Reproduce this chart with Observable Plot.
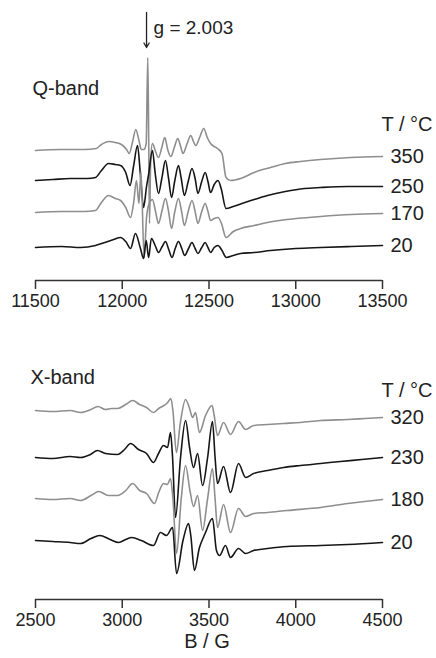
<!DOCTYPE html>
<html><head><meta charset="utf-8">
<script src="https://cdn.jsdelivr.net/npm/d3@7"></script>
<script src="https://cdn.jsdelivr.net/npm/@observablehq/plot@0.6"></script>
<style>
html,body{margin:0;padding:0;background:#fff;}
#chart{width:436px;height:658px;position:relative;overflow:hidden;}
#chart svg{display:block;}
</style></head><body><div id="chart"></div>
<script>
// ---------- tick labels ----------
const qTicks = [11500, 12000, 12500, 13000, 13500];
const xTicks = [2500, 3000, 3500, 4000, 4500];

// ---------- Q-band (field B / G, signal in arbitrary units) ----------
const qTemps = ["350", "250", "170", "20"];
const qShift = [131, 102, 69, 34];
const q350 = [[11500,-1],[11640,0],[11780,0],[11850,1],[11880,5],[11921,8],[11960,7],[11995,5],[12025,0],[12040,-4],[12060,8],[12078,20],[12095,10],[12110,0],[12125,0],[12138,6],[12147,92],[12152,20],[12157,-74],[12164,-10],[12174,6],[12192,-2],[12209,-8],[12228,2],[12245,12],[12262,0],[12280,-7],[12300,2],[12320,11],[12335,4],[12350,-4],[12372,5],[12395,14],[12410,8],[12424,4],[12446,12],[12470,21],[12490,12],[12509,6],[12549,1],[12575,-4],[12598,-28],[12624,-31],[12682,-29],[12760,-23],[12855,-18],[12940,-14],[13027,-12],[13143,-10],[13316,-8],[13500,-7]];
const q250 = [[11500,-2],[11600,-1],[11700,0],[11800,0],[11846,1],[11880,8],[11921,15],[11960,14],[11990,13],[12020,6],[12045,-7],[12065,12],[12088,33],[12105,3],[12123,-29],[12140,-8],[12152,4],[12174,28],[12190,5],[12209,-15],[12228,0],[12249,18],[12267,0],[12284,-19],[12303,-2],[12324,13],[12340,0],[12358,-17],[12380,-3],[12402,10],[12420,0],[12436,-15],[12458,-3],[12478,6],[12494,-3],[12509,-14],[12530,-6],[12552,-2],[12570,-10],[12598,-30],[12640,-28],[12690,-25],[12760,-21],[12837,-17],[12940,-13],[13050,-10],[13143,-9],[13300,-8],[13500,-8]];
const q170 = [[11500,-1],[11650,0],[11780,0],[11846,1],[11880,9],[11921,16],[11960,13],[11990,11],[12020,4],[12048,-6],[12065,8],[12082,31],[12096,8],[12108,40],[12126,-46],[12140,-6],[12155,8],[12174,12],[12192,0],[12209,-12],[12228,0],[12249,13],[12267,0],[12284,-17],[12303,0],[12324,13],[12342,0],[12358,-14],[12380,0],[12402,11],[12420,0],[12436,-12],[12458,0],[12478,8],[12494,0],[12509,-9],[12530,-7],[12552,-6],[12572,-12],[12598,-26],[12640,-20],[12682,-17],[12760,-14],[12837,-11],[12950,-8],[13143,-5],[13320,-3],[13500,-2]];
const q20 = [[11500,-1],[11650,0],[11760,-1],[11846,1],[11900,4],[11950,7],[11990,9],[12020,5],[12048,-2],[12076,13],[12105,-2],[12123,-12],[12138,6],[12152,-11],[12168,8],[12192,0],[12209,-6],[12230,0],[12249,5],[12268,-3],[12287,-11],[12305,-2],[12324,5],[12343,-2],[12360,-9],[12382,-2],[12402,4],[12420,-2],[12436,-7],[12458,-1],[12478,4],[12494,-1],[12509,-6],[12530,-1],[12552,1],[12575,-4],[12600,-11],[12640,-9],[12682,-7],[12760,-6],[12855,-4],[13000,-2],[13143,-1],[13320,0],[13500,1]];

// ---------- X-band ----------
const xTemps = ["320", "230", "180", "20"];
const xShift = [189, 142, 101, 59];
const x320 = [[2500,0],[2600,-1],[2700,0],[2759,-2],[2820,1],[2860,4],[2903,1],[2940,2],[2973,2],[3020,6],[3060,10],[3100,6],[3140,3],[3180,-2],[3210,2],[3240,5],[3262,8],[3280,12],[3292,0],[3312,-42],[3335,-12],[3365,11],[3388,2],[3405,-7],[3422,-2],[3445,-22],[3480,-5],[3518,5],[3530,-5],[3549,-25],[3584,-12],[3624,-24],[3670,-11],[3711,-19],[3757,-15],[3837,-14],[3930,-13],[4027,-12],[4143,-10],[4300,-9],[4400,-8],[4500,-7]];
const x230 = [[2500,0],[2600,-1],[2700,1],[2759,0],[2817,3],[2857,7],[2903,4],[2973,3],[3013,8],[3048,14],[3094,8],[3140,4],[3180,-5],[3209,4],[3238,12],[3261,10],[3278,25],[3290,0],[3307,-60],[3336,0],[3365,37],[3388,10],[3411,-10],[3434,4],[3463,-28],[3492,0],[3520,36],[3535,0],[3549,-26],[3584,-9],[3624,-35],[3670,-6],[3711,-20],[3757,-16],[3837,-13],[3930,-10],[4027,-8],[4143,-6],[4258,-4],[4380,-2],[4500,0]];
const x180 = [[2500,0],[2600,-1],[2700,0],[2759,-2],[2820,3],[2865,7],[2920,3],[2973,3],[3020,8],[3060,15],[3100,8],[3140,5],[3186,-5],[3210,6],[3238,15],[3260,14],[3278,20],[3292,0],[3313,-55],[3340,0],[3365,33],[3390,8],[3411,-8],[3434,3],[3463,-32],[3492,0],[3520,30],[3535,0],[3549,-29],[3584,-6],[3624,-34],[3670,-10],[3711,-18],[3757,-15],[3837,-14],[3950,-12],[4143,-9],[4300,-5],[4500,-1]];
const x20 = [[2500,0],[2600,-1],[2700,-2],[2759,-3],[2820,2],[2870,5],[2930,1],[2980,-2],[3020,1],[3055,3],[3110,0],[3180,-5],[3220,8],[3255,5],[3290,13],[3313,-33],[3350,0],[3382,17],[3395,5],[3416,-30],[3445,-7],[3465,2],[3480,8],[3520,22],[3543,-10],[3561,-15],[3595,-5],[3624,-17],[3670,-8],[3711,-13],[3757,-10],[3837,-8],[3950,-6],[4143,-5],[4300,-4],[4500,-2]];

// ---------- annotation (g = 2.003 marker, Q-band) ----------
const gField = 12140;
const gLabel = "g = 2.003";

// ---------- styles ----------
const traceColors = ["#8e8e8e", "#161616", "#8e8e8e", "#161616"];
const FONT = "'Liberation Sans', Arial, Helvetica, sans-serif";

function panel(cfg) {
  const marks = [];
  cfg.traces.forEach((tr, i) => {
    const rows = tr.map(([B, v]) => ({B, y: v + cfg.shift[i]}));
    marks.push(Plot.line(rows, {x: "B", y: "y", stroke: traceColors[i], strokeWidth: 1.6, curve: "monotone-x"}));
  });
  const labelRows = cfg.traces.map((tr, i) => {
    const last = tr[tr.length - 1];
    return {t: cfg.temps[i], B: last[0], y: last[1] + cfg.shift[i]};
  });
  marks.push(Plot.text(labelRows, {x: "B", y: "y", text: "t", dx: 8, textAnchor: "start", fontSize: 20, fill: "#222"}));
  marks.push(Plot.text(["T / °C"], {text: d => d, frameAnchor: "top-right", textAnchor: "start", lineAnchor: "middle", dx: -1, dy: cfg.unitDy, fontSize: 20, fill: "#222"}));
  marks.push(Plot.text([cfg.title], {text: d => d, frameAnchor: "top-left", textAnchor: "start", lineAnchor: "middle", dx: cfg.titleDx, dy: cfg.titleDy, fontSize: 20, fill: "#222"}));
  marks.push(Plot.ruleY([0], {stroke: "#333", strokeWidth: 1.6}));
  marks.push(Plot.axisX({ticks: cfg.ticks, tickFormat: d => String(d), tickSize: 9, tickPadding: 5, fontSize: 18, strokeWidth: 1.5, stroke: "#333", label: null}));
  if (cfg.extra) marks.push(...cfg.extra);
  return Plot.plot({
    width: 436, height: cfg.height,
    marginLeft: 35, marginRight: 54, marginTop: 0, marginBottom: cfg.marginBottom,
    x: {domain: cfg.domain},
    y: {domain: [0, cfg.yMax], axis: null},
    style: {fontFamily: FONT, color: "#222", background: "transparent", overflow: "visible"},
    marks
  });
}

const qPlot = panel({
  traces: [q350, q250, q170, q20], temps: qTemps, shift: qShift,
  ticks: qTicks, domain: [11500, 13500], height: 320, marginBottom: 40, yMax: 280,
  title: "Q-band", titleDx: -3, titleDy: 88, unitDy: 124,
  extra: [
    Plot.arrow([gField], {x1: d => d, x2: d => d, y1: () => 268, y2: () => 233, stroke: "#222", strokeWidth: 1.3, headLength: 6}),
    Plot.text([gLabel], {x: () => gField, y: () => 253, text: d => d, dx: 7, textAnchor: "start", fontSize: 19, fill: "#222"})
  ]
});

const xPlot = panel({
  traces: [x320, x230, x180, x20], temps: xTemps, shift: xShift,
  ticks: xTicks, domain: [2500, 4500], height: 338, marginBottom: 59, yMax: 279,
  title: "X-band", titleDx: -5, titleDy: 57, unitDy: 70,
  extra: [
    Plot.text(["B / G"], {text: d => d, frameAnchor: "bottom", dy: 48, dx: -2, fontSize: 20, fill: "#222"})
  ]
});

const root = document.getElementById("chart");
root.appendChild(qPlot);
root.appendChild(xPlot);
</script>
</body></html>
